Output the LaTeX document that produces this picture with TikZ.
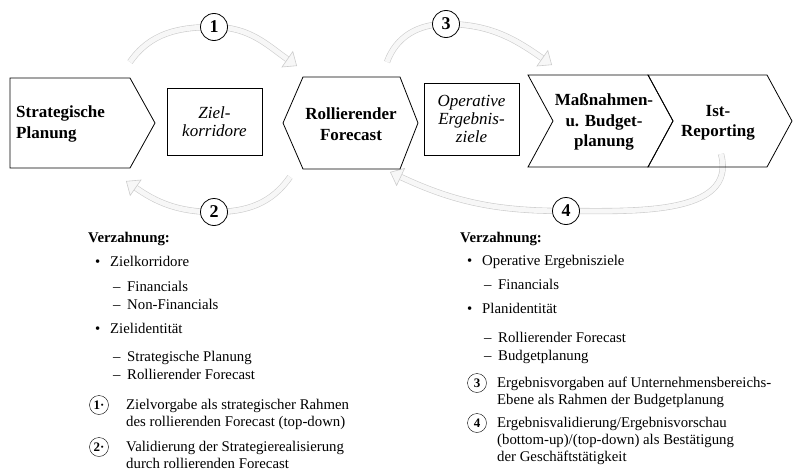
\documentclass[tikz,border=0pt]{standalone}
\usepackage{fontspec}
\setmainfont{Liberation Serif}
\usetikzlibrary{arrows.meta}
\usetikzlibrary{positioning}
\usetikzlibrary{backgrounds}
\newcommand\lbul{\makebox[15pt][l]{\textbullet}}
\newcommand\ldash{\makebox[14pt][l]{--}}
\tikzset{
semithick, % all lines semithick
>=stealth,
my text/.style={font=\fontsize{14.8}{17}\selectfont,inner sep=0pt,anchor=base west},
my head/.style={my text,font=\fontsize{14.8}{17}\selectfont\bfseries},
phase/.style={draw,thick,line join=miter},
phase text/.style={font=\fontsize{17}{20.5}\selectfont\bfseries,align=center,inner sep=0pt},
result box/.style={draw,thick,minimum width=95pt,font=\fontsize{17}{18}\selectfont\itshape,align=center},
step no/.style={draw,thick,circle,fill=white,minimum size=27pt,inner sep=0pt,font=\fontsize{18}{18}\selectfont\bfseries},
small no/.style={draw,circle,minimum size=19pt,inner sep=0pt,font=\fontsize{13}{13}\selectfont\bfseries},
loop arrow/.style={draw=gray!40,double=gray!6,double distance=5pt,line width=0.6pt,
  -{Triangle[length=12pt,width=20pt,fill=gray!6,color=gray!40,line width=0.6pt]}}
}

\begin{document}
\begin{tikzpicture}[x=1pt,y=-1pt]
\useasboundingbox (0,0) rectangle (798,471);

% process chain
\draw[phase] (10,78) -- (130,78) -- (155,123) -- (130,168) -- (10,168) -- cycle;
\node[phase text,align=left,anchor=west] (sp) at (16,124) {Strategische\\Planung};
\node[result box,minimum height=67pt] (zk) at (214.5,121.5) {Ziel-\\korridore};
\draw[phase] (283,123) -- (303,77) -- (400,77) -- (418,123) -- (400,169) -- (303,169) -- cycle;
\node[phase text] (rf) at (351,124) {Rollierender\\Forecast};
\node[result box,minimum height=72pt] (oe) at (471.5,119) {Operative\\Ergebnis-\\ziele};
\draw[phase] (528,75) -- (648,75) -- (673,121) -- (648,167) -- (528,167) -- (553,121) -- cycle;
\node[phase text] (mb) at (604,122) {Maßnahmen-\\u. Budget-\\planung};
\draw[phase] (648,75) -- (767,75) -- (792,121) -- (767,167) -- (648,167) -- (673,121) -- cycle;
\node[phase text] (ir) at (718,123) {Ist-\\Reporting};

% step numbers
\node[step no] (c1) at (214,27) {1};
\node[step no] (c2) at (214,212) {2};
\node[step no] (c3) at (446,24) {3};
\node[step no] (c4) at (566,211) {4};

\coordinate (a1s) at (130,62);
\coordinate (a1e) at (297,66);
\coordinate (a2s) at (290,177);
\coordinate (a2e) at (126,181);
\coordinate (a3s) at (387,62);
\coordinate (a3e) at (552,65);
\coordinate (a4s) at (721,154);
\coordinate (a4e) at (390,172);

\begin{scope}[on background layer]
\draw[loop arrow] (a1s) to[out=55,in=180] (c1.center) to[out=0,in=145] (a1e);
\draw[loop arrow] (a2s) to[out=-125,in=0] (c2.center) to[out=180,in=-35] (a2e);
\draw[loop arrow] (a3s) to[out=70,in=180] (c3.center) to[out=0,in=145] (a3e);
\draw[loop arrow] (a4s) to[out=-75,in=0] (c4.center) to[out=180,in=-25] (a4e);
\end{scope}

% left list
\node[my head] (lh)  at (88,242) {Verzahnung:};
\node[my text] (l1)  at (95,266) {\lbul Zielkorridore};
\node[my text] (l11) at (113,291) {\ldash Financials};
\node[my text] (l12) at (113,309) {\ldash Non-Financials};
\node[my text] (l2)  at (95,333) {\lbul Zielidentität};
\node[my text] (l21) at (113,361) {\ldash Strategische Planung};
\node[my text] (l22) at (113,379) {\ldash Rollierender Forecast};
\node[small no] (n1) at (99,405) {1\textperiodcentered};
\node[my text] (t1a) at (126,409) {Zielvorgabe als strategischer Rahmen};
\node[my text] (t1b) at (126,426) {des rollierenden Forecast (top-down)};
\node[small no] (n2) at (99,447) {2\textperiodcentered};
\node[my text] (t2a) at (126,451) {Validierung der Strategierealisierung};
\node[my text] (t2b) at (126,468) {durch rollierenden Forecast};

% right list
\node[my head] (rh)  at (460,242) {Verzahnung:};
\node[my text] (r1)  at (467,265) {\lbul Operative Ergebnisziele};
\node[my text] (r11) at (484,289) {\ldash Financials};
\node[my text] (r2)  at (467,313) {\lbul Planidentität};
\node[my text] (r21) at (484,342) {\ldash Rollierender Forecast};
\node[my text] (r22) at (484,360) {\ldash Budgetplanung};
\node[small no] (n3) at (477,383) {3};
\node[my text] (t3a) at (497,387) {Ergebnisvorgaben auf Unternehmensbereichs-};
\node[my text] (t3b) at (497,404) {Ebene als Rahmen der Budgetplanung};
\node[small no] (n4) at (477,423) {4};
\node[my text] (t4a) at (497,427) {Ergebnisvalidierung/Ergebnisvorschau};
\node[my text] (t4b) at (497,444) {(bottom-up)/(top-down) als Bestätigung};
\node[my text] (t4c) at (497,461) {der Geschäftstätigkeit};
\end{tikzpicture}
\end{document}
